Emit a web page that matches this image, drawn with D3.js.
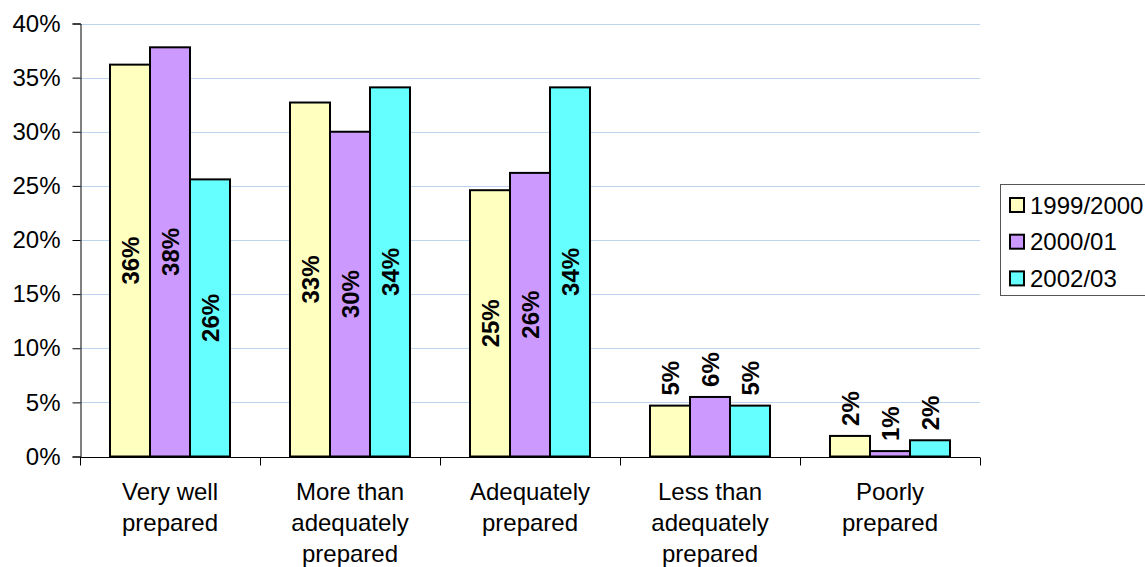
<!DOCTYPE html>
<html>
<head>
<meta charset="utf-8">
<script src="https://cdn.jsdelivr.net/npm/d3@7"></script>
<style>
  html, body { margin: 0; padding: 0; background: #fff; }
  svg { display: block; font-family: "Liberation Sans", Arial, sans-serif; }
  svg text { font-family: "Liberation Sans", Arial, sans-serif; }
</style>
</head>
<body>
<svg id="chart" width="1145" height="567"></svg>
<script>
// Preparation ratings by survey year
const categories = [
  ["Very well", "prepared"],
  ["More than", "adequately", "prepared"],
  ["Adequately", "prepared"],
  ["Less than", "adequately", "prepared"],
  ["Poorly", "prepared"]
];
const seriesNames = ["1999/2000", "2000/01", "2002/03"];
const seriesColors = ["#FFFFC0", "#CC99FF", "#66FFFF"];
const values1999 = [0.362, 0.327, 0.246, 0.047, 0.019];
const values2000 = [0.378, 0.300, 0.262, 0.055, 0.005];
const values2002 = [0.256, 0.341, 0.341, 0.047, 0.015];
const yTicks = [0, 0.05, 0.10, 0.15, 0.20, 0.25, 0.30, 0.35, 0.40];

const seriesValues = [values1999, values2000, values2002];
const catKeys = categories.map(c => c.join(" "));
const FONT = "'Liberation Sans', Arial, sans-serif";

const svg = d3.select("#chart");
const plot = { left: 80, right: 980, top: 23.5, bottom: 456.5 };

const x = d3.scaleBand().domain(catKeys).range([plot.left, plot.right]);
const xInner = d3.scaleBand().domain(seriesNames)
  .range([x.bandwidth() / 6, x.bandwidth() * 5 / 6]);
const y = d3.scaleLinear().domain([0, 0.40]).range([plot.bottom, plot.top]);

// horizontal gridlines
svg.append("g")
  .selectAll("line")
  .data(yTicks.filter(t => t > 0))
  .join("line")
  .attr("x1", plot.left).attr("x2", plot.right)
  .attr("y1", d => Math.round(y(d)) + 0.5).attr("y2", d => Math.round(y(d)) + 0.5)
  .attr("stroke", "#BCD4EE").attr("stroke-width", 1);

// y axis
const yAxis = svg.append("g")
  .attr("transform", `translate(${plot.left + 0.5},0)`)
  .call(d3.axisLeft(y).tickValues(yTicks).tickFormat(d3.format(".0%")).tickSize(8).tickPadding(12));
yAxis.select(".domain").attr("stroke", "#000");
yAxis.selectAll(".tick line").attr("stroke", "#000");
yAxis.selectAll(".tick text").attr("font-size", 24).attr("fill", "#000")
  .attr("font-family", FONT);

// bars
const rows = [];
catKeys.forEach((k, i) => {
  seriesNames.forEach((s, j) => {
    rows.push({ cat: k, series: s, value: seriesValues[j][i], color: seriesColors[j] });
  });
});

svg.append("g")
  .selectAll("rect")
  .data(rows)
  .join("rect")
  .attr("x", d => x(d.cat) + xInner(d.series))
  .attr("y", d => y(d.value))
  .attr("width", xInner.bandwidth())
  .attr("height", d => y(0) - y(d.value))
  .attr("fill", d => d.color)
  .attr("stroke", "#000")
  .attr("stroke-width", 2);

// x axis
const xAxisG = svg.append("g")
  .attr("transform", `translate(0,${Math.round(plot.bottom) + 0.5})`);
xAxisG.append("line")
  .attr("x1", plot.left).attr("x2", plot.right)
  .attr("stroke", "#000");
const boundaries = catKeys.map(k => x(k)).concat([plot.right]);
xAxisG.selectAll("line.tick")
  .data(boundaries)
  .join("line")
  .attr("class", "tick")
  .attr("x1", d => Math.round(d) + 0.5).attr("x2", d => Math.round(d) + 0.5)
  .attr("y1", 0).attr("y2", 8)
  .attr("stroke", "#000");

// category labels (multi-line)
const catLabels = svg.append("g");
categories.forEach((lines, i) => {
  const cx = x(catKeys[i]) + x.bandwidth() / 2;
  const t = catLabels.append("text")
    .attr("x", cx)
    .attr("y", 500)
    .attr("text-anchor", "middle")
    .attr("font-size", 24)
    .attr("font-family", FONT)
    .attr("fill", "#000");
  lines.forEach((ln, li) => {
    t.append("tspan")
      .attr("x", cx)
      .attr("dy", li === 0 ? 0 : 31)
      .text(ln);
  });
});

// value labels, rotated: centred in tall bars, above short ones
const labelFmt = d3.format(".0%");
svg.append("g")
  .selectAll("text")
  .data(rows)
  .join("text")
  .attr("transform", d => {
    const cx = x(d.cat) + xInner(d.series) + xInner.bandwidth() / 2;
    if (d.value >= 0.10) {
      const cy = (y(d.value) + y(0)) / 2;
      return `translate(${cx},${cy}) rotate(-90)`;
    }
    return `translate(${cx},${y(d.value) - 10}) rotate(-90)`;
  })
  .attr("text-anchor", d => d.value >= 0.10 ? "middle" : "start")
  .attr("dominant-baseline", "central")
  .attr("font-size", 24)
  .attr("font-weight", "bold")
  .attr("font-family", FONT)
  .attr("fill", "#000")
  .text(d => labelFmt(d.value));

// legend
const legend = svg.append("g");
legend.append("rect")
  .attr("x", 1000.5).attr("y", 184.5)
  .attr("width", 170).attr("height", 111)
  .attr("fill", "#fff")
  .attr("stroke", "#555").attr("stroke-width", 1);
seriesNames.forEach((s, i) => {
  const cy = 205 + i * 36.7;
  legend.append("rect")
    .attr("x", 1010).attr("y", cy - 7)
    .attr("width", 14).attr("height", 14)
    .attr("fill", seriesColors[i])
    .attr("stroke", "#000").attr("stroke-width", 2);
  legend.append("text")
    .attr("x", 1030).attr("y", cy)
    .attr("dominant-baseline", "central")
    .attr("font-size", 24)
    .attr("font-family", FONT)
    .attr("fill", "#000")
    .text(s);
});
</script>
</body>
</html>
